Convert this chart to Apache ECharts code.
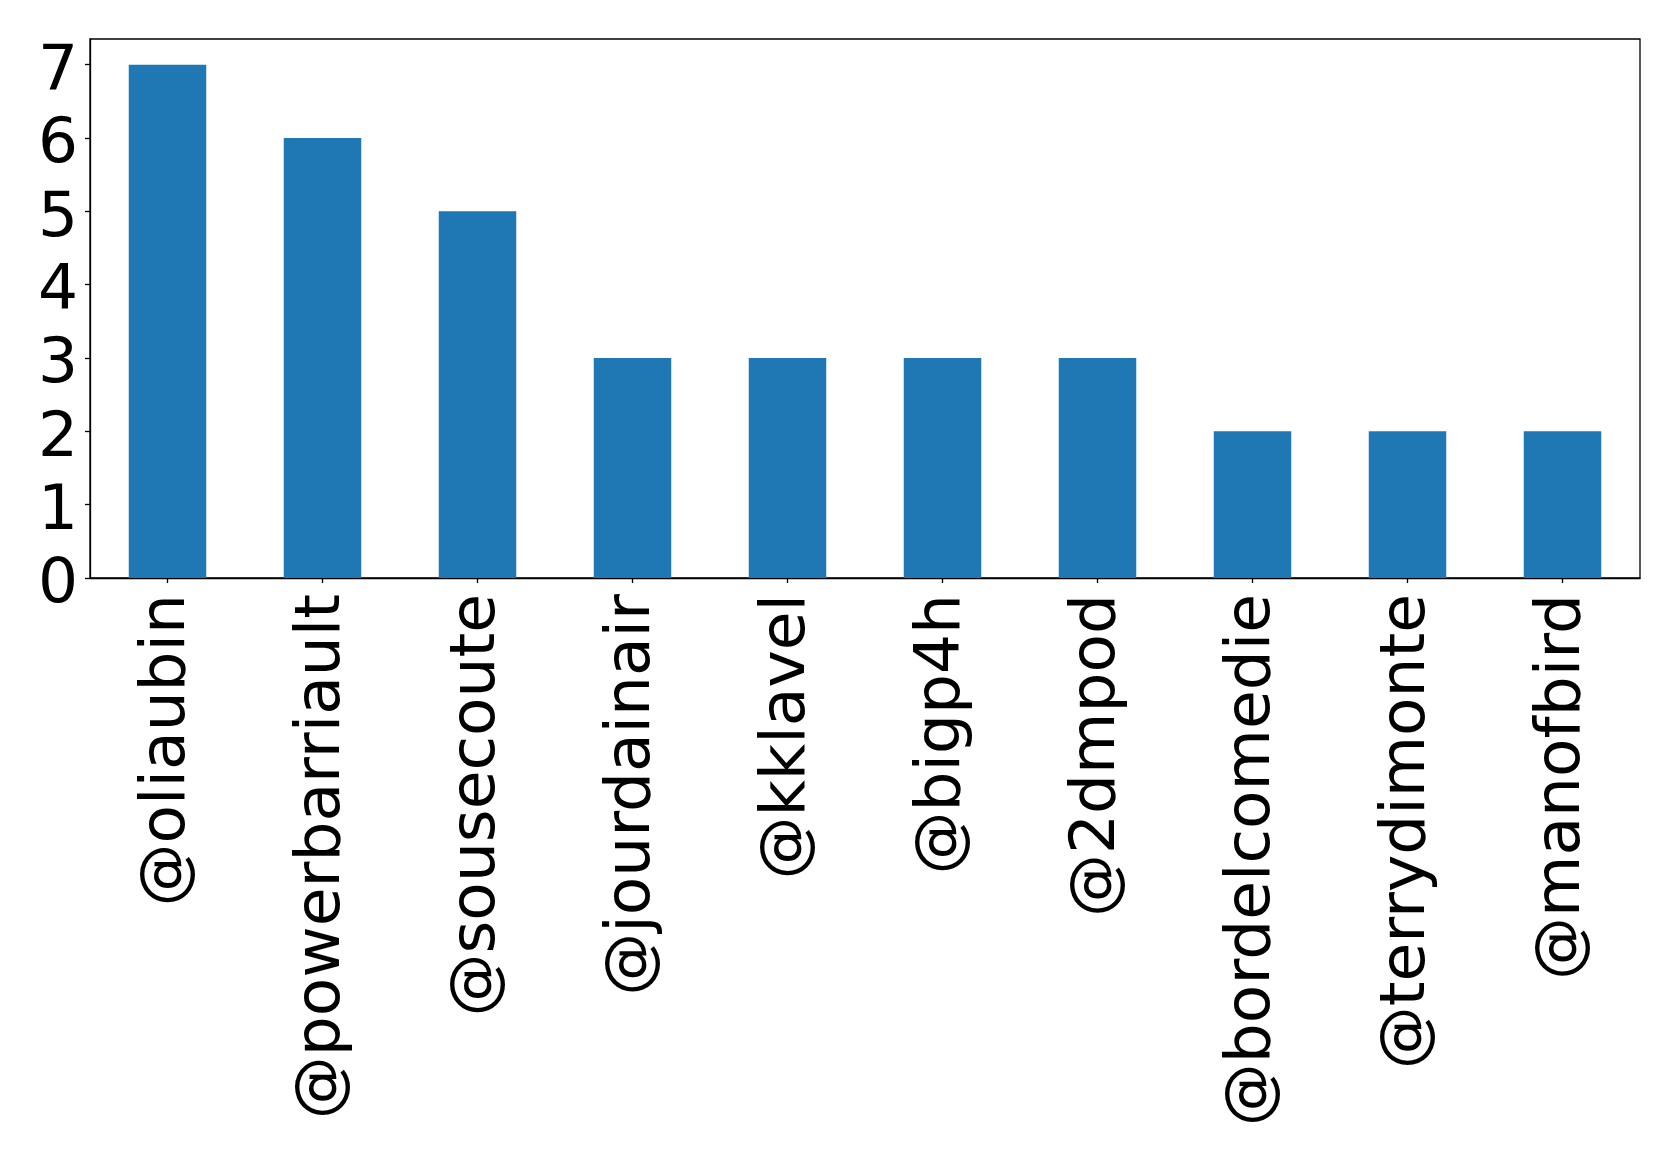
<!DOCTYPE html>
<html>
<head>
<meta charset="utf-8">
<script src="https://cdn.jsdelivr.net/npm/echarts@6/dist/echarts.min.js"></script>
<style>
  html, body { margin: 0; padding: 0; background: #fff; }
  #chart { width: 1679px; height: 1156px; }
</style>
</head>
<body>
<div id="chart"></div>
<script>
// Mention counts per account
const accounts = ['@oliaubin', '@powerbarriault', '@sousecoute', '@jourdainair', '@kklavel',
                  '@bigp4h', '@2dmpod', '@bordelcomedie', '@terrydimonte', '@manofbird'];
const counts = [7, 6, 5, 3, 3, 3, 3, 2, 2, 2];
const yTicks = [0, 1, 2, 3, 4, 5, 6, 7];

const FONT = 'DejaVu Sans';
const chart = echarts.init(document.getElementById('chart'), null, { renderer: 'canvas' });

chart.setOption({
  animation: false,
  backgroundColor: '#ffffff',
  grid: {
    left: 90, right: 39, top: 39, bottom: 578,
    show: true, borderColor: '#000', borderWidth: 1.3, backgroundColor: 'transparent'
  },
  xAxis: {
    type: 'category',
    data: accounts,
    axisLine: { show: true, lineStyle: { color: '#000', width: 1.3 } },
    axisTick: { show: true, alignWithLabel: true, length: 5, lineStyle: { color: '#000', width: 1.3 } },
    axisLabel: {
      rotate: 90, interval: 0, margin: 16,
      color: '#000', fontFamily: FONT, fontSize: 63
    },
    splitLine: { show: false }
  },
  yAxis: {
    type: 'value',
    min: 0, max: 7.35, interval: 1,
    axisLine: { show: true, lineStyle: { color: '#000', width: 1.3 } },
    axisTick: { show: true, length: 5, customValues: yTicks, lineStyle: { color: '#000', width: 1.3 } },
    axisLabel: {
      customValues: yTicks, margin: 12,
      formatter: '{n|{value}}',
      rich: {
        // digits sit a little below the tick, as with a centered baseline
        n: { color: '#000', fontFamily: FONT, fontSize: 63, padding: [16, 0, 0, 0] }
      }
    },
    splitLine: { show: false }
  },
  series: [{
    type: 'bar',
    data: counts,
    barWidth: '50%',
    itemStyle: { color: '#1f77b4' }
  }]
});
</script>
</body>
</html>
